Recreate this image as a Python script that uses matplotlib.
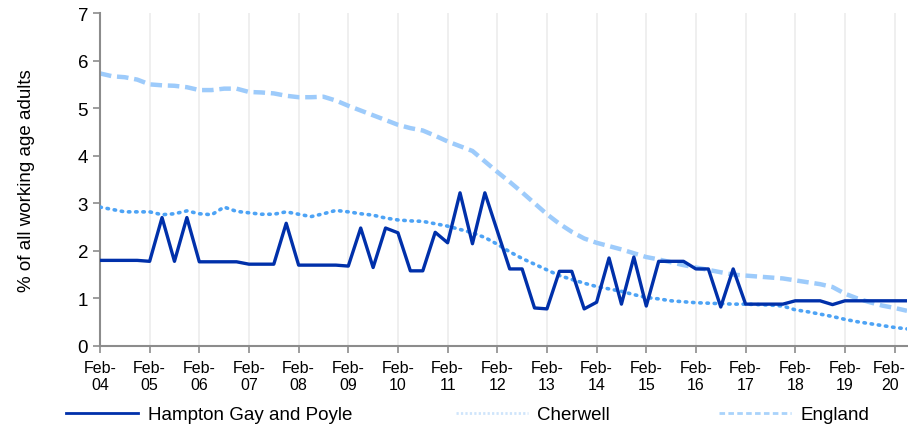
import numpy as np
import matplotlib.pyplot as plt
import matplotlib.transforms as mtransforms

plt.rcParams['font.family'] = ['Liberation Sans', 'DejaVu Sans']

# quarterly series, Feb-04 .. May-20
years = ['04', '05', '06', '07', '08', '09', '10', '11', '12',
         '13', '14', '15', '16', '17', '18', '19', '20']
tick_labels = ['Feb-\n' + y for y in years]

hampton = [1.8, 1.8, 1.8, 1.8, 1.78, 2.7, 1.78, 2.7,
           1.77, 1.77, 1.77, 1.77, 1.72, 1.72, 1.72, 2.58,
           1.7, 1.7, 1.7, 1.7, 1.68, 2.48, 1.65, 2.48,
           2.38, 1.58, 1.58, 2.39, 2.17, 3.22, 2.15, 3.22,
           2.42, 1.62, 1.62, 0.8, 0.78, 1.57, 1.57, 0.78,
           0.92, 1.85, 0.88, 1.87, 0.84, 1.78, 1.78, 1.78,
           1.62, 1.62, 0.82, 1.62, 0.88, 0.88, 0.88, 0.88,
           0.95, 0.95, 0.95, 0.87, 0.95, 0.95, 0.95, 0.95,
           0.95, 0.95]

cherwell = [2.92, 2.87, 2.82, 2.82, 2.82, 2.76, 2.78, 2.84,
            2.78, 2.76, 2.92, 2.83, 2.80, 2.77, 2.77, 2.82,
            2.77, 2.72, 2.78, 2.85, 2.82, 2.78, 2.75, 2.69,
            2.65, 2.63, 2.62, 2.57, 2.52, 2.45, 2.38, 2.28,
            2.14, 1.98, 1.84, 1.72, 1.6, 1.48, 1.4, 1.32,
            1.25, 1.2, 1.15, 1.08, 1.02, 0.99, 0.95, 0.93,
            0.91, 0.9, 0.89, 0.88, 0.88, 0.87, 0.86, 0.84,
            0.76, 0.72, 0.67, 0.62, 0.56, 0.51, 0.47, 0.43,
            0.39, 0.36]

england = [5.73, 5.67, 5.65, 5.6, 5.5, 5.48, 5.47, 5.44,
           5.38, 5.38, 5.41, 5.41, 5.34, 5.33, 5.31, 5.26,
           5.23, 5.23, 5.24, 5.16, 5.05, 4.95, 4.85, 4.75,
           4.65, 4.58, 4.53, 4.42, 4.3, 4.2, 4.1, 3.88,
           3.66, 3.45, 3.23, 3.0, 2.77, 2.57, 2.4, 2.26,
           2.17, 2.1, 2.03, 1.95, 1.87, 1.82, 1.76, 1.7,
           1.65, 1.6, 1.55, 1.5, 1.48, 1.46, 1.44, 1.42,
           1.38, 1.34, 1.3, 1.24, 1.1, 1.0, 0.92, 0.85,
           0.8, 0.74]

x = np.arange(len(hampton))

fig = plt.figure(figsize=(9.08, 4.31), dpi=100)
ax = fig.add_axes([0.1101, 0.1949, 0.8888, 0.7726])

ax.plot(x, hampton, color='#0030aa', lw=2.4, zorder=4)
ax.plot(x, cherwell, color='#4da3f5', lw=2.6, linestyle=(0, (0.4, 1.6)),
        dash_capstyle='round', zorder=3)
ax.plot(x, england, color='#9dcbfb', lw=3.2, linestyle=(0, (2.6, 1.3)), zorder=2)

ax.set_xlim(0, 65)
ax.set_ylim(0, 7)
ax.set_xticks(np.arange(0, 65, 4))
ax.set_xticklabels(tick_labels)
ax.set_yticks(range(8))
ax.grid(axis='x', color='#ececec', lw=1.2)
ax.set_axisbelow(True)

for s in ['top', 'right']:
    ax.spines[s].set_visible(False)
for s in ['left', 'bottom']:
    ax.spines[s].set_color('#8c8c8c')
    ax.spines[s].set_linewidth(1.5)
ax.tick_params(axis='y', colors='#8c8c8c', labelcolor='black', labelsize=13.5, length=5, width=1.2)
ax.tick_params(axis='x', colors='#8c8c8c', labelcolor='black', labelsize=11.5, length=5, width=1.2,
               pad=5)
ax.set_ylabel('% of all working age adults', fontsize=13.5, labelpad=31)

# keep the last tick label inside the canvas
last = ax.get_xticklabels()[-1]
last.set_transform(last.get_transform() +
                   mtransforms.ScaledTranslation(-0.05, 0, fig.dpi_scale_trans))

# legend: thin faint line samples like the source
leg_handles = [
    plt.Line2D([], [], color='#0030aa', lw=2.0),
    plt.Line2D([], [], color='#cfe5fb', lw=2.0, linestyle=(0, (0.8, 0.8))),
    plt.Line2D([], [], color='#a9d3fb', lw=2.0, linestyle=(0, (2.0, 1.2))),
]
leg_labels = ['Hampton Gay and Poyle', 'Cherwell', 'England']
legend_x = [0.073, 0.502, 0.792]
legend_kw = dict(loc='center left', frameon=False, fontsize=13.5,
                 handlelength=3.85, handletextpad=0.5, borderpad=0, borderaxespad=0)
for hnd, lab, lx in zip(leg_handles, leg_labels, legend_x):
    fig.legend(handles=[hnd], labels=[lab], bbox_to_anchor=(lx, 0.035), **legend_kw)

fig.savefig('out.png', dpi=100)
